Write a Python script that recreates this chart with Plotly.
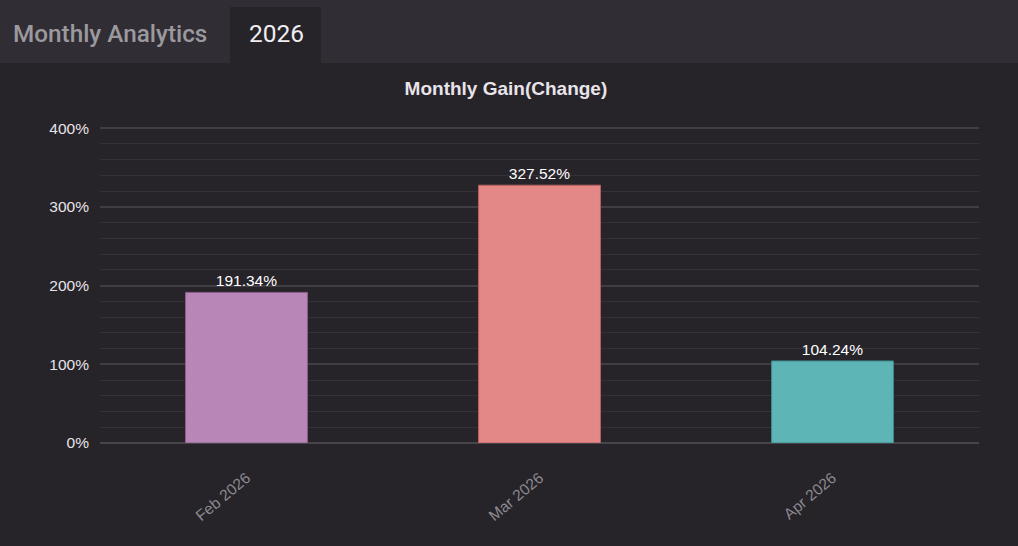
import plotly.graph_objects as go

months = ["Feb 2026", "Mar 2026", "Apr 2026"]
gains = [191.34, 327.52, 104.24]
bar_colors = ["#b887b8", "#e48787", "#5db5b5"]
edge_colors = ["#8e5f8e", "#b86060", "#3f8a8c"]
y_ticks = [0, 100, 200, 300, 400]

bg = "#262329"
tabbar = "#302d34"

fig = go.Figure(go.Bar(
    x=months, y=gains,
    marker=dict(color=bar_colors, line=dict(color=edge_colors, width=1)),
    width=0.416,
    text=[f"{v:.2f}%" for v in gains],
    textposition="outside",
    textfont=dict(color="#ffffff", size=15.5, family="Liberation Sans, Arial"),
    cliponaxis=False,
))

# plot area: x 100..979 px, y 125..443 px (400% sits at 128)
W = 879.0
H = 318.0
def px_x(p):
    return (p - 100) / W
def px_y(p):
    return (443 - p) / H

fig.update_layout(
    width=1018, height=546,
    margin=dict(l=100, r=39, t=125, b=103),
    paper_bgcolor=bg, plot_bgcolor=bg,
    showlegend=False,
    title=dict(text="<b>Monthly Gain(Change)</b>", x=0.497, xref="container", y=1 - 88 / 546, yanchor="middle",
               xanchor="center",
               font=dict(size=19, color="#e8e4ea", family="Liberation Sans, Arial")),
    xaxis=dict(tickangle=-40, tickfont=dict(size=15.5, color="#8c8990", family="Liberation Sans, Arial"),
               showgrid=False, showline=False, ticks="", range=[-0.5, 2.5], ticklabelstandoff=22),
    yaxis=dict(range=[0, 404], tickvals=y_ticks, ticktext=[f"{t}%" for t in y_ticks],
               tickfont=dict(size=15.5, color="#e6e4e8", family="Liberation Sans, Arial"),
               gridcolor="#403d45", gridwidth=2, zeroline=True, zerolinecolor="#47444c", zerolinewidth=2,
               ticks="", ticklabelstandoff=10,
               minor=dict(dtick=20, showgrid=True, gridcolor="#34313a", gridwidth=1)),
    shapes=[
        dict(type="rect", xref="paper", yref="paper", x0=px_x(0), x1=px_x(1018), y0=px_y(63), y1=px_y(0),
             fillcolor=tabbar, line=dict(width=0), layer="below"),
        dict(type="rect", xref="paper", yref="paper", x0=px_x(230), x1=px_x(321), y0=px_y(63), y1=px_y(7),
             fillcolor=bg, line=dict(width=0), layer="below"),
    ],
    annotations=[
        dict(text="Monthly Analytics", xref="paper", yref="paper", x=px_x(11), y=px_y(33),
             xanchor="left", yanchor="middle", showarrow=False,
             font=dict(size=24.3, color="#9b999e", family="Roboto", weight=500)),
        dict(text="2026", xref="paper", yref="paper", x=px_x(276), y=px_y(33),
             xanchor="center", yanchor="middle", showarrow=False,
             font=dict(size=24.5, color="#f0eef2", family="Roboto")),
    ],
)

fig.write_html("out.html", config={"displayModeBar": False},
               post_script="document.body.style.margin='0';document.body.style.background='#262329';")
